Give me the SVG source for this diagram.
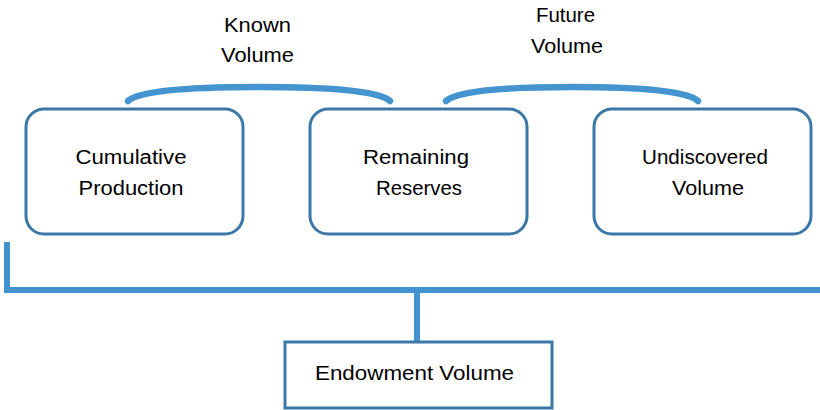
<svg xmlns="http://www.w3.org/2000/svg" width="820" height="410" viewBox="0 0 820 410">
<style>
.box{fill:#fff;stroke:#3b78a6;stroke-width:3}
.brace{fill:none;stroke:#4494cf;stroke-width:6.5;stroke-linecap:round}
.line{fill:none;stroke:#4192ce;stroke-width:6}
text{font-family:"Liberation Sans",Arial,sans-serif;font-size:19.5px;fill:#000;text-anchor:middle}
</style>
<rect width="820" height="410" fill="#fff"/>
<g id="connectors">
<path class="brace" d="M128,101 C140,90 200,87 259,87 C318,87 378,90 390,101"/>
<path class="brace" d="M446,101 C458,90 512,87 572,87 C632,87 686,90 698,101"/>
<path class="line" d="M7,242 V290 H820"/>
<path class="line" d="M417,290 V342"/>
</g>
<g id="label-known"><text x="257.5" y="32" textLength="67" lengthAdjust="spacingAndGlyphs">Known</text><text x="257.5" y="62" textLength="73" lengthAdjust="spacingAndGlyphs">Volume</text></g>
<g id="label-future"><text x="565.5" y="22" textLength="59" lengthAdjust="spacingAndGlyphs">Future</text><text x="567" y="53" textLength="72" lengthAdjust="spacingAndGlyphs">Volume</text></g>
<g id="node-cumulative">
<rect class="box" x="26" y="109" width="217" height="125" rx="18"/>
<text x="131" y="164" textLength="111" lengthAdjust="spacingAndGlyphs">Cumulative</text><text x="131" y="195" textLength="105" lengthAdjust="spacingAndGlyphs">Production</text>
</g>
<g id="node-remaining">
<rect class="box" x="310" y="109" width="217" height="125" rx="18"/>
<text x="416" y="164" textLength="106" lengthAdjust="spacingAndGlyphs">Remaining</text><text x="419" y="195" textLength="86" lengthAdjust="spacingAndGlyphs">Reserves</text>
</g>
<g id="node-undiscovered">
<rect class="box" x="594" y="109" width="217" height="125" rx="18"/>
<text x="705" y="164" textLength="126" lengthAdjust="spacingAndGlyphs">Undiscovered</text><text x="708" y="195" textLength="72" lengthAdjust="spacingAndGlyphs">Volume</text>
</g>
<g id="node-endowment">
<rect class="box" x="285" y="342" width="267" height="66"/>
<text x="414.5" y="380" textLength="199" lengthAdjust="spacingAndGlyphs">Endowment Volume</text>
</g>
</svg>
